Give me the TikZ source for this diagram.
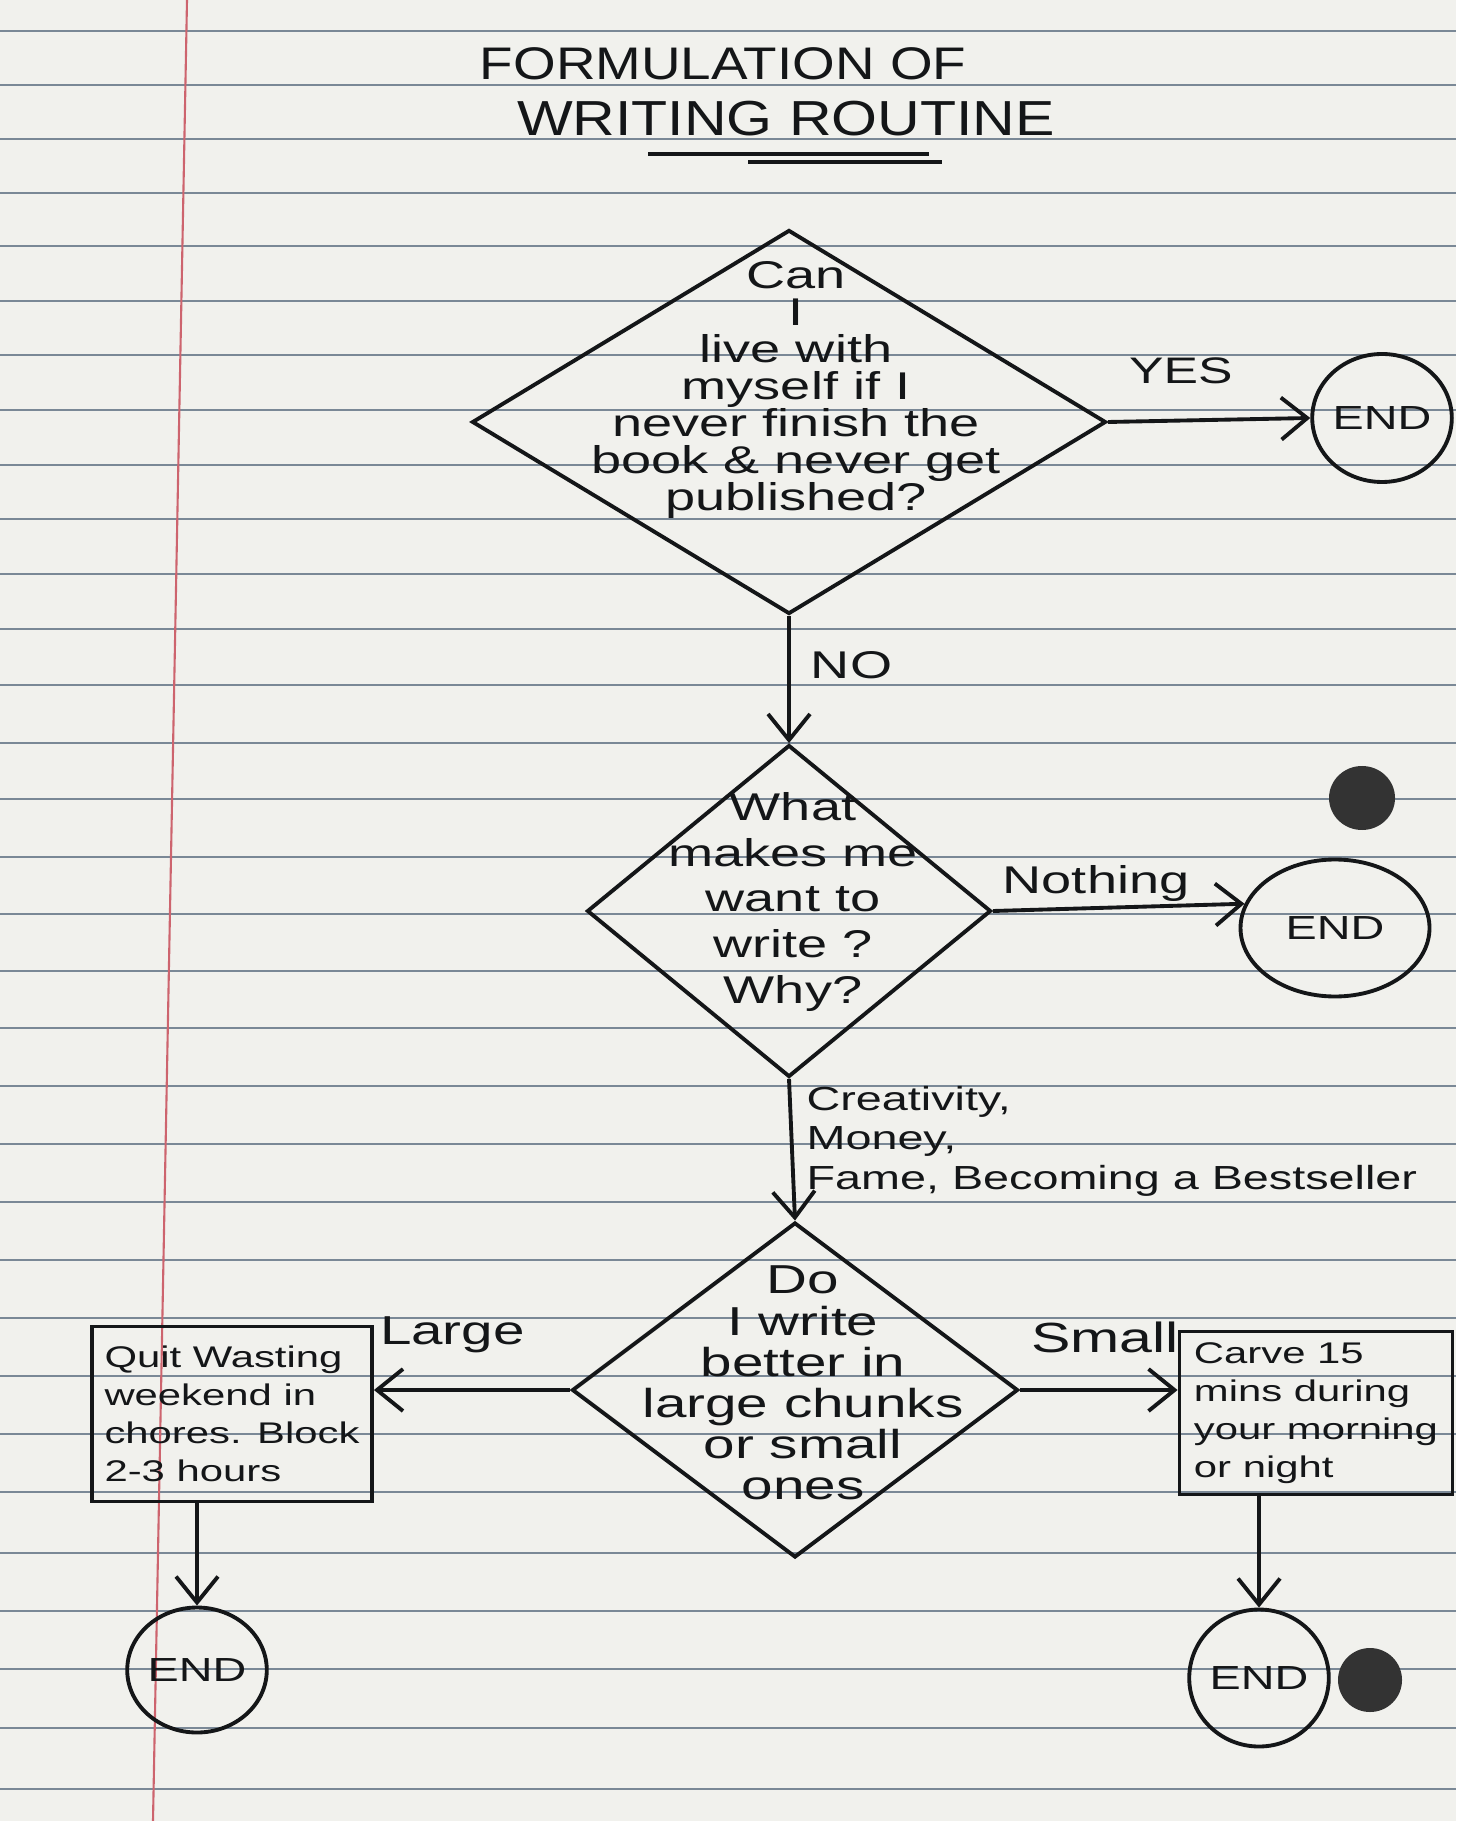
\documentclass[tikz,border=0pt]{standalone}
\usepackage{fontspec}
\setmainfont{Liberation Sans}
\newfontfamily\handfont[FakeStretch=1.4]{Liberation Sans}
\newfontfamily\headfont[FakeStretch=1.2]{Liberation Sans}
\usetikzlibrary{shapes.geometric,arrows.meta}
\definecolor{paper}{RGB}{241,241,237}
\definecolor{ruling}{RGB}{122,136,150}
\definecolor{margin}{RGB}{205,100,110}
\definecolor{ink}{RGB}{20,22,24}

\begin{document}
\begin{tikzpicture}[x=0.1mm,y=-0.1mm,
  pen/.style={draw=ink,text=ink,line width=1.1pt},
  decision/.style={pen,diamond,inner sep=0},
  stop/.style={pen,ellipse,inner sep=0,font=\handfont\fontsize{9.5}{11}\selectfont},
  task/.style={pen,rectangle,inner sep=0.8mm,align=left,font=\handfont\fontsize{8.5}{10.8}\selectfont},
  query/.style={inner sep=0,align=center,text=ink},
  tag/.style={inner sep=0,text=ink,font=\handfont\fontsize{11}{13}\selectfont},
  flow/.style={pen,-{Straight Barb[length=2.6mm,width=4.2mm]}}]
\useasboundingbox (0,0) rectangle (1456,1821);
\fill[paper] (0,0) rectangle (1456,1821);
\foreach \y in {31,85,139,193,246,301,355,410,465,519,574,629,685,743,799,857,914,971,1028,1086,1144,1202,1260,1318,1376,1434,1492,1553,1611,1669,1728,1789} {
  \draw[ruling,line width=0.5pt] (0,\y) -- (1456,\y);
}
\draw[margin,line width=0.6pt] (187,0) -- (153,1821);
\fill[black!80] (1362,798) ellipse [x radius=33,y radius=32];
\fill[black!80] (1370,1680) ellipse [x radius=32,y radius=32];
% title
\node[query,font=\headfont\fontsize{13}{15}\selectfont] (head1) at (723,64) {FORMULATION OF};
\node[query,font=\headfont\fontsize{14}{16}\selectfont] (head2) at (786,119) {WRITING ROUTINE};
\draw[pen] (648,154) -- (929,154);
\draw[pen] (748,162) -- (942,162);
% questions
\node[decision,minimum width=63.4mm,minimum height=38.4mm] (live) at (789,422) {};
\node[query,font=\handfont\fontsize{11}{10.5}\selectfont] (livetext) at (796,390) {Can\\I\\live with\\myself if I\\never finish the\\book \& never get\\published?};
\node[decision,minimum width=40.4mm,minimum height=33.2mm] (why) at (789,911) {};
\node[query,font=\handfont\fontsize{11}{13}\selectfont] (whytext) at (793,902) {What\\makes me\\want to\\write ?\\Why?};
\node[decision,minimum width=44.6mm,minimum height=33.5mm] (chunks) at (795,1390) {};
\node[query,font=\handfont\fontsize{11.5}{11.7}\selectfont] (chunkstext) at (803,1383) {Do\\I write\\better in\\large chunks\\or small\\ones};
% ends and tasks
\node[stop,minimum width=13.9mm,minimum height=12.8mm] (end1) at (1382,418) {END};
\node[stop,minimum width=18.9mm,minimum height=13.7mm] (end2) at (1335,928) {END};
\node[stop,minimum width=13.3mm,minimum height=12.5mm] (end3) at (197,1670) {END};
\node[stop,minimum width=13.4mm,minimum height=13.7mm] (end4) at (1259,1678) {END};
\node[task,minimum width=28mm,minimum height=17.5mm] (chores) at (232,1414) {Quit Wasting\\weekend in\\chores. Block\\2-3 hours};
\node[task,minimum width=27.3mm,minimum height=16.3mm] (carve) at (1316,1413) {Carve 15\\mins during\\your morning\\or night};
% connectors
\draw[flow] (live.east) -- (end1.west) node[tag,pos=0.36,above=3.5mm,font=\handfont\fontsize{10.5}{12}\selectfont] {YES};
\draw[flow] (live.south) -- (why.north) node[tag,pos=0.39,right=2mm] {NO};
\draw[flow] (why.east) -- (end2.165) node[tag,pos=0.41,above=0.5mm] {Nothing};
\draw[flow] (why.south) -- (chunks.north) node[tag,pos=0.44,right=1.3mm,align=left,font=\handfont\fontsize{9.5}{11.3}\selectfont] {Creativity,\\Money,\\Fame, Becoming a Bestseller};
\draw[flow] (chunks.west) -- (chunks.west -| chores.east) node[tag,pos=0.6,above=3.5mm,font=\handfont\fontsize{11.5}{13}\selectfont] {Large};
\draw[flow] (chunks.east) -- (chunks.east -| carve.west) node[tag,pos=0.54,above=3.5mm,font=\handfont\fontsize{12}{14}\selectfont] {Small};
\draw[flow] (chores.south -| end3.north) -- (end3.north);
\draw[flow] (carve.south -| end4.north) -- (end4.north);
\end{tikzpicture}
\end{document}
